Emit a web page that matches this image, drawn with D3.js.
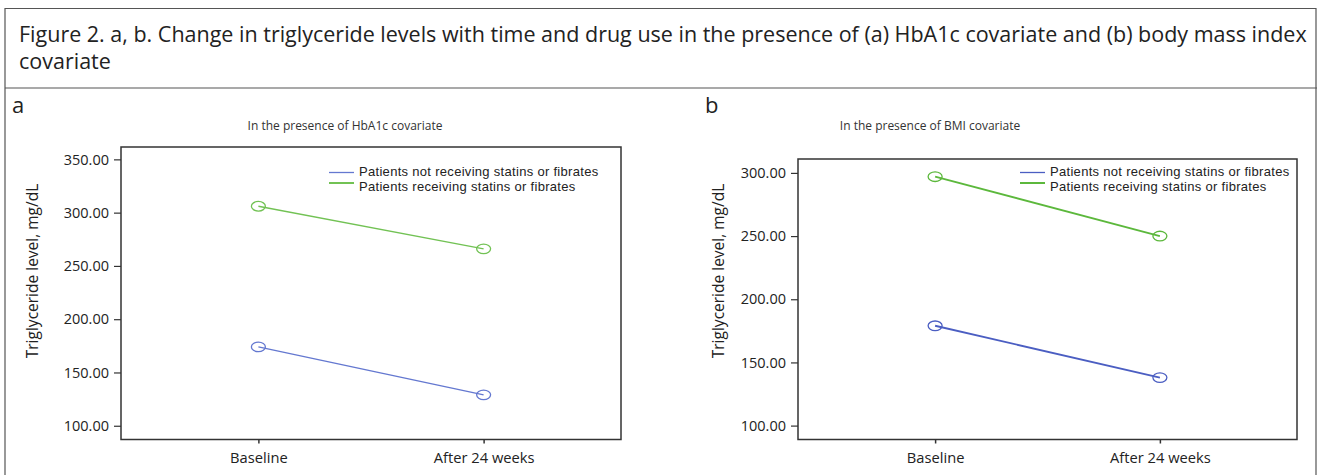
<!DOCTYPE html>
<html>
<head>
<meta charset="utf-8">
<script src="https://cdn.jsdelivr.net/npm/d3@7"></script>
<style>
  body { margin: 0; background: #fff; }
  svg { display: block; }
</style>
</head>
<body>
<div id="fig"></div>
<script>
// values
var timePoints = ['Baseline', 'After 24 weeks'];
var groupNames = ['Patients not receiving statins or fibrates', 'Patients receiving statins or fibrates'];
var hba1cNotReceiving = [174, 129];
var hba1cReceiving = [306, 266];
var bmiNotReceiving = [179, 138];
var bmiReceiving = [297, 250];
var hba1cTicks = [100, 150, 200, 250, 300, 350];
var bmiTicks = [100, 150, 200, 250, 300];

var W = 1317, H = 475;
var font = "'Open Sans', sans-serif";

var svg = d3.select('#fig').append('svg')
    .attr('width', W)
    .attr('height', H)
    .style('font-family', font);

// outer box + title
svg.append('path')
    .attr('d', 'M5,' + (H + 2) + 'V8.5H1316V' + (H + 2))
    .attr('fill', 'none')
    .attr('stroke', '#555')
    .attr('stroke-width', 1.2);
svg.append('line')
    .attr('x1', 5).attr('x2', W)
    .attr('y1', 88).attr('y2', 88)
    .attr('stroke', '#555')
    .attr('stroke-width', 1.2);

var title = svg.append('g')
    .attr('fill', '#222')
    .attr('font-size', '21.5px');
title.append('text')
    .attr('x', 19).attr('y', 42)
    .text('Figure 2. a, b. Change in triglyceride levels with time and drug use in the presence of (a) HbA1c covariate and (b) body mass index');
title.append('text')
    .attr('x', 19).attr('y', 69)
    .text('covariate');

function drawPanel(p) {
    var g = svg.append('g');
    var bottom = 439.5;

    g.append('text')
        .attr('x', p.letterX).attr('y', 113)
        .attr('font-size', '22px')
        .attr('fill', '#222')
        .text(p.letter);

    g.append('text')
        .attr('x', p.subX).attr('y', 130)
        .attr('text-anchor', 'middle')
        .attr('font-size', '12px')
        .attr('fill', '#333')
        .text(p.subtitle);

    var x = d3.scalePoint()
        .domain(timePoints)
        .range([p.left, p.right])
        .padding(0.61);
    var y = d3.scaleLinear()
        .domain(p.yDomain)
        .range([bottom, p.top]);

    // frame
    g.append('rect')
        .attr('x', p.left).attr('y', p.top)
        .attr('width', p.right - p.left)
        .attr('height', bottom - p.top)
        .attr('fill', 'none')
        .attr('stroke', '#333')
        .attr('stroke-width', 1.5);

    var yAxis = g.append('g')
        .attr('transform', 'translate(' + p.left + ',0)')
        .call(d3.axisLeft(y).tickValues(p.ticks).tickFormat(d3.format('.2f')).tickSize(7).tickPadding(5));
    yAxis.select('.domain').remove();
    yAxis.selectAll('line').attr('stroke', '#333').attr('stroke-width', 1.2);
    yAxis.selectAll('text')
        .attr('font-family', font)
        .attr('font-size', '14.5px')
        .attr('fill', '#222');

    var xAxis = g.append('g')
        .attr('transform', 'translate(0,' + bottom + ')')
        .call(d3.axisBottom(x).tickSize(4).tickPadding(9.5));
    xAxis.select('.domain').remove();
    xAxis.selectAll('line').attr('stroke', '#333').attr('stroke-width', 1.5);
    xAxis.selectAll('text')
        .attr('font-family', font)
        .attr('font-size', '14.7px')
        .attr('fill', '#222');

    g.append('text')
        .attr('transform', 'translate(' + p.yTitleX + ',271) rotate(-90)')
        .attr('text-anchor', 'middle')
        .attr('dominant-baseline', 'central')
        .attr('font-size', '15.5px')
        .attr('fill', '#222')
        .text('Triglyceride level, mg/dL');

    var line = d3.line()
        .x(function (d, i) { return x(timePoints[i]); })
        .y(function (d) { return y(d); });

    p.series.forEach(function (vals, k) {
        g.append('path')
            .datum(vals)
            .attr('d', line)
            .attr('fill', 'none')
            .attr('stroke', p.colors[k])
            .attr('stroke-width', p.lineWidth);
        g.selectAll('.pt' + k)
            .data(vals)
            .enter().append('ellipse')
            .attr('cx', function (d, i) { return x(timePoints[i]); })
            .attr('cy', function (d) { return y(d); })
            .attr('rx', 7)
            .attr('ry', 4.8)
            .attr('fill', 'none')
            .attr('stroke', p.colors[k])
            .attr('stroke-width', 1.3);
    });

    // legend: swatch lines sit closer together than the text rows
    // (Liberation Sans keeps the tight rows from colliding)
    var leg = g.append('g').attr('transform', 'translate(' + p.legX + ',0)');
    groupNames.forEach(function (name, k) {
        leg.append('line')
            .attr('x1', 0).attr('x2', 25)
            .attr('y1', 172.5 + k * 10.5).attr('y2', 172.5 + k * 10.5)
            .attr('stroke', p.colors[k])
            .attr('stroke-width', k ? 2 : 1.3);
        leg.append('text')
            .attr('x', 30).attr('y', 171 + k * 15)
            .attr('dominant-baseline', 'central')
            .attr('font-family', "'Liberation Sans', sans-serif")
            .attr('font-size', '13px')
            .attr('letter-spacing', '0.3px')
            .attr('fill', '#222')
            .text(name);
    });
}

drawPanel({
    letter: 'a', letterX: 12, subX: 345,
    subtitle: 'In the presence of HbA1c covariate',
    left: 121, right: 621, top: 147,
    yDomain: [87.1, 361.6], ticks: hba1cTicks,
    yTitleX: 32, legX: 329, lineWidth: 1.3,
    colors: ['#6478d0', '#72c254'],
    series: [hba1cNotReceiving, hba1cReceiving]
});

drawPanel({
    letter: 'b', letterX: 705, subX: 930,
    subtitle: 'In the presence of BMI covariate',
    left: 798, right: 1297, top: 159,
    yDomain: [89, 311], ticks: bmiTicks,
    yTitleX: 718, legX: 1020, lineWidth: 1.9,
    colors: ['#4b5ec2', '#5cb83c'],
    series: [bmiNotReceiving, bmiReceiving]
});
</script>
</body>
</html>
